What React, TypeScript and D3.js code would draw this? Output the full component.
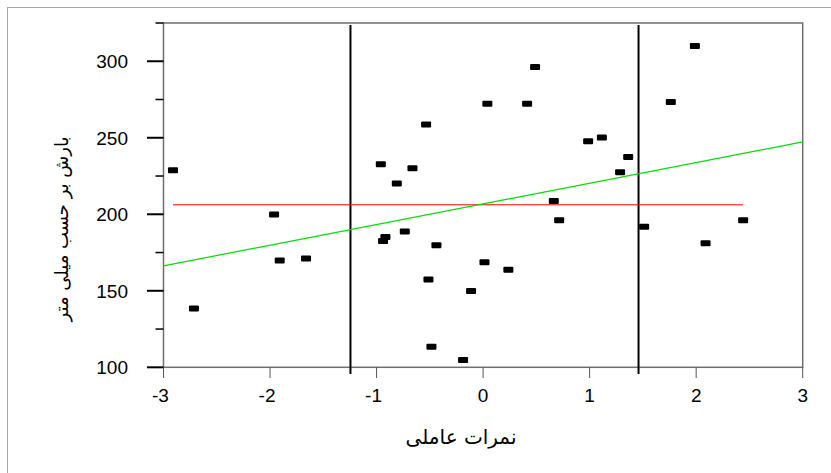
import React, { useEffect, useRef } from "react";
import * as d3 from "d3";

const xValues = [
  -2.911, -2.714, -1.962, -1.909, -1.662, -0.96, -0.917, -0.939, -0.81, -0.735, -0.663,
  -0.535, -0.513, -0.485, -0.438, -0.188, -0.113, 0.013, 0.04, 0.237, 0.413, 0.488,
  0.664, 0.714, 0.986, 1.115, 1.286, 1.362, 1.512, 1.762, 1.988, 2.088, 2.441,
];
const yValues = [
  228.8, 138.5, 199.9, 169.8, 171.1, 232.7, 185.2, 182.6, 220.1, 188.8, 230.1,
  258.6, 157.4, 113.4, 179.8, 104.8, 149.8, 168.7, 272.3, 163.7, 272.3, 296.2,
  208.7, 196.1, 247.7, 250.1, 227.5, 237.5, 191.8, 273.4, 309.9, 181.1, 196.1,
];
const xTicks = [-3, -2, -1, 0, 1, 2, 3];
const yMajorTicks = [100, 150, 200, 250, 300];
const yMinorTicks = [125, 175, 225, 275, 325];
const verticalRefs = [-1.245, 1.459];
const fitLineX = [-3, 3];
const fitLineY = [166.3, 247.3];
const xTitle = "نمرات عاملی";
const yTitle = "بارش بر حسب میلی متر";

export default function App() {
  const ref = useRef<SVGSVGElement>(null);

  useEffect(() => {
    const svg = d3.select(ref.current);
    svg.selectAll("*").remove();

    const left = 163.5, right = 802.7, top = 23, bottom = 367.3;
    const x = d3.scaleLinear().domain([-3, 3]).range([left, right]);
    const y = d3.scaleLinear().domain([100, 325]).range([bottom, top]);

    // outer frame
    svg.append("rect").attr("x", 7.5).attr("y", 7.5).attr("width", 840).attr("height", 480)
      .attr("fill", "white").attr("stroke", "#a9a9a1").attr("stroke-width", 1);

    // plot frame
    svg.append("rect").attr("x", left).attr("y", top).attr("width", right - left).attr("height", bottom - top)
      .attr("fill", "white").attr("stroke", "#6e6e6e").attr("stroke-width", 1.5);

    // y ticks
    const g = svg.append("g");
    yMajorTicks.forEach((v) => {
      g.append("line").attr("x1", 147).attr("x2", left).attr("y1", y(v)).attr("y2", y(v))
        .attr("stroke", "#000").attr("stroke-width", 2);
      g.append("text").attr("x", 128).attr("y", y(v)).attr("dy", "0.36em")
        .attr("text-anchor", "end").attr("font-family", "Liberation Sans, Arial, sans-serif")
        .attr("font-size", 19).attr("fill", "#000").text(String(v));
    });
    yMinorTicks.forEach((v) => {
      g.append("line").attr("x1", 155.5).attr("x2", left).attr("y1", y(v)).attr("y2", y(v))
        .attr("stroke", "#000").attr("stroke-width", 1.5);
    });
    // x ticks
    xTicks.forEach((v) => {
      g.append("line").attr("x1", x(v)).attr("x2", x(v)).attr("y1", bottom).attr("y2", 378)
        .attr("stroke", "#555").attr("stroke-width", 1);
      g.append("text").attr("x", x(v) + (v < 0 ? -3 : 0)).attr("y", 402)
        .attr("text-anchor", "middle").attr("font-family", "Liberation Sans, Arial, sans-serif")
        .attr("font-size", 19).attr("fill", "#000").text(String(v));
    });

    // reference verticals
    verticalRefs.forEach((v) => {
      svg.append("line").attr("x1", x(v)).attr("x2", x(v)).attr("y1", 25).attr("y2", 374)
        .attr("stroke", "#000").attr("stroke-width", 2);
    });

    // mean line
    const meanY = d3.mean(yValues) as number;
    const [minX, maxX] = d3.extent(xValues) as [number, number];
    svg.append("line").attr("x1", x(minX)).attr("x2", x(maxX)).attr("y1", y(meanY)).attr("y2", y(meanY))
      .attr("stroke", "#ff0000").attr("stroke-width", 1);

    // fit line
    svg.append("line").attr("x1", x(fitLineX[0])).attr("x2", x(fitLineX[1]))
      .attr("y1", y(fitLineY[0])).attr("y2", y(fitLineY[1]))
      .attr("stroke", "#00dd00").attr("stroke-width", 1.2);

    // points
    svg.append("g").selectAll("rect").data(xValues.map((xv, i) => [xv, yValues[i]]))
      .join("rect")
      .attr("x", (d) => x(d[0]) - 5).attr("y", (d) => y(d[1]) - 3)
      .attr("width", 10).attr("height", 6).attr("rx", 1)
      .attr("fill", "#000");

    // titles
    svg.append("text").attr("x", 461).attr("y", 444).attr("text-anchor", "middle")
      .attr("font-family", "DejaVu Sans, sans-serif").attr("font-size", 20).attr("fill", "#000")
      .attr("direction", "rtl").text(xTitle);
    svg.append("text").attr("transform", "translate(68,229) rotate(-90)").attr("text-anchor", "middle")
      .attr("font-family", "DejaVu Sans, sans-serif").attr("font-size", 18).attr("fill", "#000")
      .attr("direction", "rtl").text(yTitle);
  }, []);

  return (
    <svg ref={ref} width={831} height={473}
      style={{ position: "absolute", left: 0, top: 0, background: "white" }} />
  );
}
